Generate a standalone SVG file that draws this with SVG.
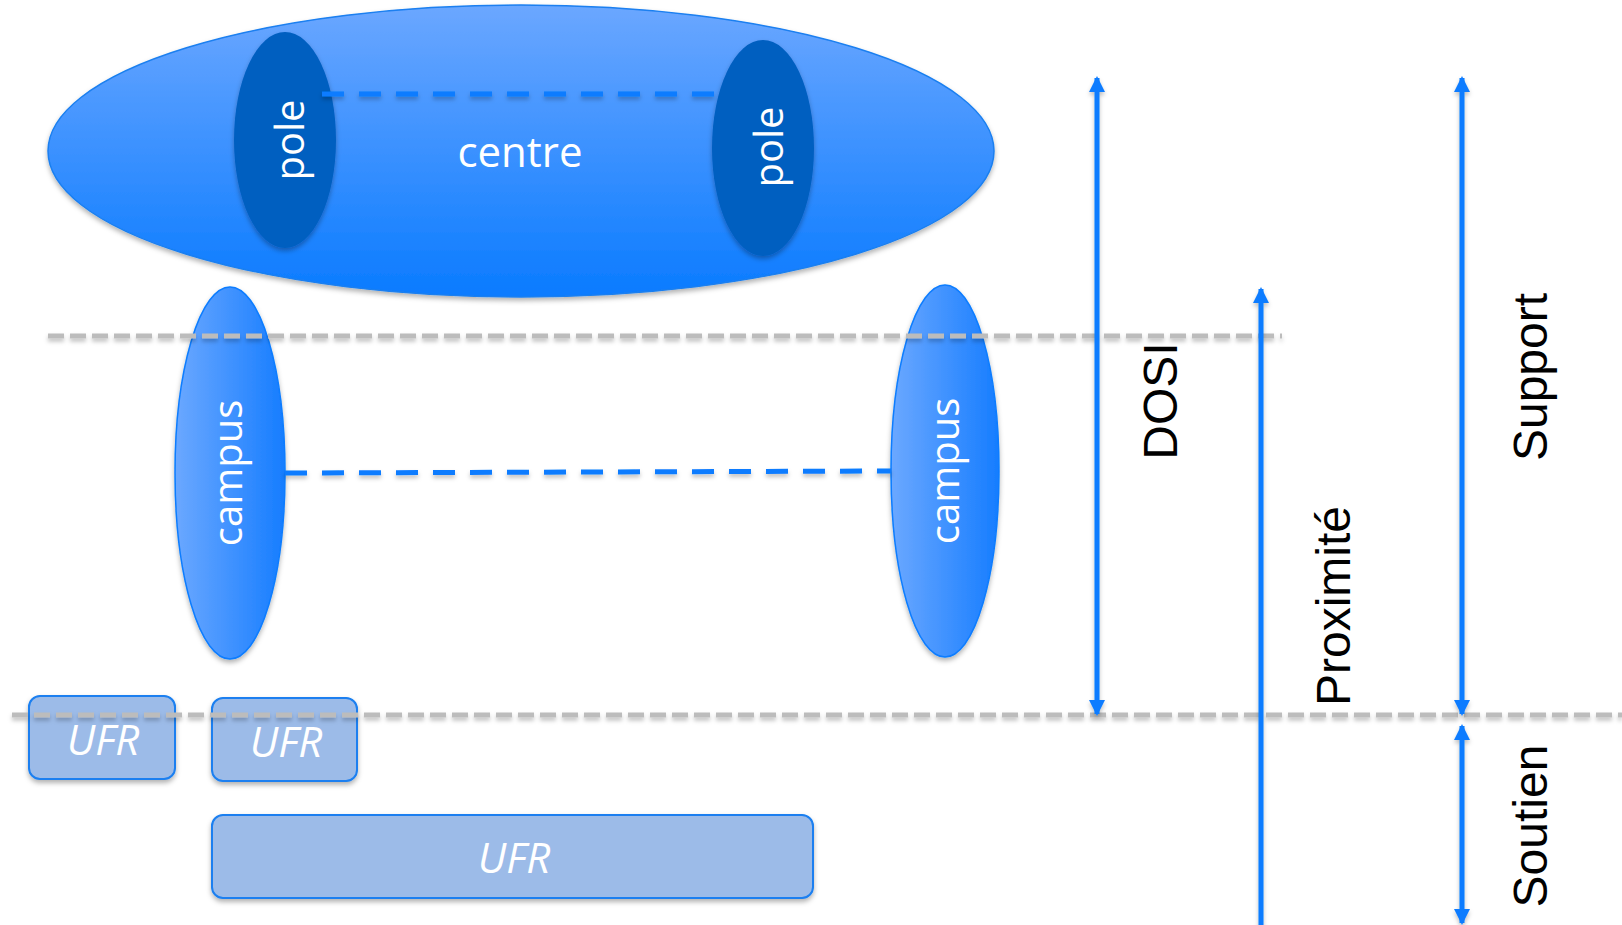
<svg xmlns="http://www.w3.org/2000/svg" width="1622" height="925" viewBox="0 0 1622 925">
<defs>
<linearGradient id="gCentre" x1="0" y1="0" x2="0" y2="1">
<stop offset="0" stop-color="#6ba7ff"/>
<stop offset="1" stop-color="#0a7bff"/>
</linearGradient>
<linearGradient id="gCampus" x1="0" y1="0" x2="1" y2="0">
<stop offset="0" stop-color="#6ba8ff"/>
<stop offset="1" stop-color="#167dff"/>
</linearGradient>
<filter id="sh" x="-20%" y="-20%" width="140%" height="140%">
<feDropShadow dx="0" dy="3" stdDeviation="2.5" flood-color="#000" flood-opacity="0.3"/>
</filter>
<filter id="shl" filterUnits="userSpaceOnUse" x="0" y="0" width="1622" height="925">
<feDropShadow dx="0" dy="3" stdDeviation="2" flood-color="#000" flood-opacity="0.25"/>
</filter>
<marker id="ah" viewBox="0 0 16 16" markerWidth="16" markerHeight="16" refX="14" refY="8" orient="auto-start-reverse" markerUnits="userSpaceOnUse">
<path d="M0,0 L16,8 L0,16 z" fill="#0a7cff"/>
</marker>
<style>
.wt{font-family:"Open Sans","Noto Sans",sans-serif;fill:#fff;font-weight:500;}
.bt{font-family:"Liberation Sans",Arial,sans-serif;fill:#000;font-size:48px;}
.ufr{fill:#9cbbe8;stroke:#1a7ff0;stroke-width:2;filter:url(#sh);}
.ufrt{font-family:"Open Sans","Noto Sans",sans-serif;font-style:italic;fill:#fff;font-size:42px;text-anchor:middle;}
.bdash{stroke:#0a7cff;stroke-width:5;stroke-dasharray:22 15;fill:none;filter:url(#shl);}
.gdash{stroke:#bcbcbc;stroke-width:5;stroke-dasharray:16 6;fill:none;filter:url(#shl);}
.arr{stroke:#0a7cff;stroke-width:5;fill:none;marker-start:url(#ah);marker-end:url(#ah);filter:url(#shl);}
</style>
</defs>

<g id="centre">
<ellipse cx="521" cy="151" rx="473" ry="146" fill="url(#gCentre)" stroke="#1a7ff0" stroke-width="1.5" filter="url(#sh)"/>
<text class="wt" x="520" y="167" font-size="42" text-anchor="middle">centre</text>
</g>

<g id="pole-left">
<ellipse cx="285" cy="140" rx="51" ry="108" fill="#035fc0" filter="url(#sh)"/>
<text class="wt" font-size="40" text-anchor="middle" transform="translate(304,140) rotate(-90)">pole</text>
</g>

<g id="pole-right">
<ellipse cx="763" cy="148" rx="51" ry="108" fill="#035fc0" filter="url(#sh)"/>
<text class="wt" font-size="40" text-anchor="middle" transform="translate(783,147) rotate(-90)">pole</text>
</g>

<g id="campus-left">
<ellipse cx="230" cy="473" rx="55" ry="186" fill="url(#gCampus)" stroke="#0a7cff" stroke-width="1.5" filter="url(#sh)"/>
<text class="wt" font-size="40" text-anchor="middle" transform="translate(242,473) rotate(-90)">campus</text>
</g>

<g id="campus-right">
<ellipse cx="945" cy="471" rx="54" ry="186" fill="url(#gCampus)" stroke="#0a7cff" stroke-width="1.5" filter="url(#sh)"/>
<text class="wt" font-size="40" text-anchor="middle" transform="translate(959,471) rotate(-90)">campus</text>
</g>

<g id="ufr-1">
<rect class="ufr" x="29" y="696" width="146" height="83" rx="11"/>
<text class="ufrt" x="103" y="755">UFR</text>
</g>
<g id="ufr-2">
<rect class="ufr" x="212" y="698" width="145" height="83" rx="11"/>
<text class="ufrt" x="286" y="757">UFR</text>
</g>
<g id="ufr-3">
<rect class="ufr" x="212" y="815" width="601" height="83" rx="11"/>
<text class="ufrt" x="514" y="873">UFR</text>
</g>

<g id="separators">
<line class="gdash" x1="48" y1="336" x2="1282" y2="336"/>
<line class="gdash" x1="12" y1="715" x2="1622" y2="715"/>
</g>

<g id="connectors">
<line class="bdash" x1="322" y1="94" x2="714" y2="94"/>
<line class="bdash" x1="285" y1="473" x2="891" y2="471"/>
<line class="arr" x1="1097" y1="78" x2="1097" y2="714"/>
<line class="arr" x1="1261" y1="289" x2="1261" y2="940"/>
<line class="arr" x1="1462" y1="78" x2="1462" y2="714"/>
<line class="arr" x1="1462" y1="726" x2="1462" y2="923"/>
</g>

<g id="labels">
<text class="bt" text-anchor="middle" transform="translate(1177,401) rotate(-90)">DOSI</text>
<text class="bt" text-anchor="middle" transform="translate(1350,606) rotate(-90)">Proximité</text>
<text class="bt" text-anchor="middle" transform="translate(1547,377) rotate(-90)">Support</text>
<text class="bt" text-anchor="middle" transform="translate(1547,826) rotate(-90)">Soutien</text>
</g>
</svg>
